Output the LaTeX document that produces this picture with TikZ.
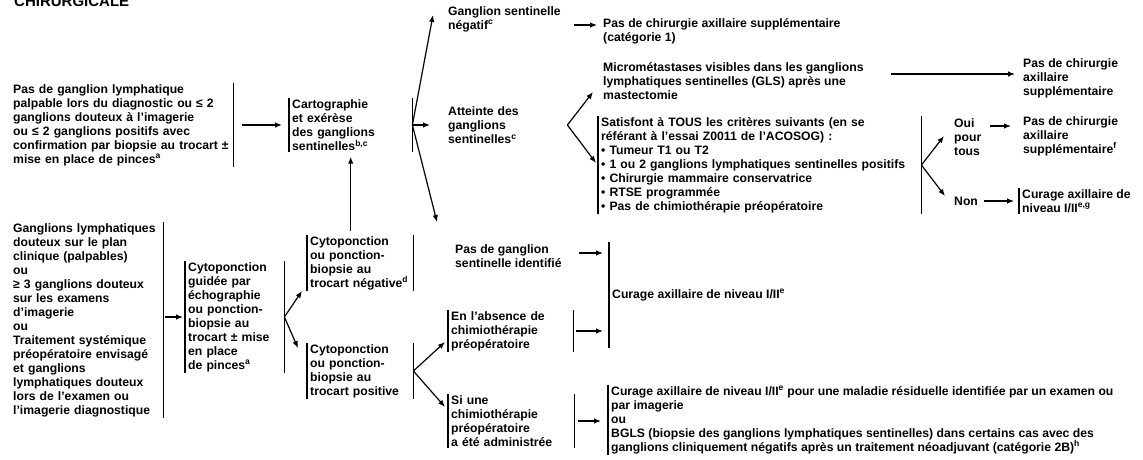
\documentclass[tikz,border=0pt]{standalone}
\usepackage{fontspec}
\setmainfont{Liberation Sans}
\usepackage{tikz}
\usetikzlibrary{arrows.meta, positioning}

\begin{document}
\begin{tikzpicture}[x=1pt, y=-1pt, >={Latex[length=7pt, width=5.5pt]}, font=\fontsize{12.2}{14}\selectfont\bfseries]
		\tikzstyle{box} = [anchor=west, align=left, inner xsep=3pt, inner ysep=1pt]
		\tikzstyle{bar} = [draw=black, line width=1.3pt, -]
		\tikzstyle{lbar} = [append after command={(\tikzlastnode.north west) edge[bar] (\tikzlastnode.south west)}]
		\tikzstyle{rbar} = [append after command={(\tikzlastnode.north east) edge[bar] (\tikzlastnode.south east)}]
		\tikzstyle{arrow} = [line width=1.2pt, ->]
		
		\useasboundingbox (0, 0) rectangle (1143, 460);
		
		\node[anchor=base west, inner sep=0pt, font=\fontsize{15}{18}\selectfont\bfseries] at (14, 6.5) (q0) {CHIRURGICALE};
		
		\node[box, rbar, text width=217pt]			at (10, 125)	(q1)	{Pas de ganglion lymphatique\\palpable lors du diagnostic ou ≤ 2\\ganglions douteux à l’imagerie\\ou ≤ 2 ganglions positifs avec\\confirmation par biopsie au trocart ±\\mise en place de pinces\textsuperscript{a}};
		\node[box, lbar, rbar, text width=117pt]	at (289, 125)	(q2)	{Cartographie\\et exérèse\\des ganglions\\sentinelles\textsuperscript{b,c}};
		
		\node[box]									at (445, 19)	(q3)	{Ganglion sentinelle\\négatif\textsuperscript{c}};
		\node[box]									at (600, 31)	(q4)	{Pas de chirurgie axillaire supplémentaire\\(catégorie 1)};
		\node[box, text width=116pt]				at (445, 125)	(q5)	{Atteinte des\\ganglions\\sentinelles\textsuperscript{c}};
		\node[box]									at (600, 81)	(q6)	{Micrométastases visibles dans les ganglions\\lymphatiques sentinelles (GLS) après une\\mastectomie};
		\node[box]									at (1020, 78)	(q7)	{Pas de chirurgie\\axillaire\\supplémentaire};
		\node[box, lbar, rbar, text width=317pt]	at (598, 165)	(q8)	{Satisfont à TOUS les critères suivants (en se\\référant à l’essai Z0011 de l’ACOSOG) :\\• Tumeur T1 ou T2\\• 1 ou 2 ganglions lymphatiques sentinelles positifs\\• Chirurgie mammaire conservatrice\\• RTSE programmée\\• Pas de chimiothérapie préopératoire};
		\node[box]									at (951, 137)	(q9)	{Oui\\pour\\tous};
		\node[box]									at (1020, 136)	(q10)	{Pas de chirurgie\\axillaire\\supplémentaire\textsuperscript{f}};
		\node[box]									at (951, 201)	(q11)	{Non};
		\node[box, lbar]							at (1019, 201)	(q12)	{Curage axillaire de\\niveau I/II\textsuperscript{e,g}};
		
		\node[box, rbar, text width=147pt]			at (10, 320)	(q13)	{Ganglions lymphatiques\\douteux sur le plan\\clinique (palpables)\\ou\\≥ 3 ganglions douteux\\sur les examens\\d’imagerie\\ou\\Traitement systémique\\préopératoire envisagé\\et ganglions\\lymphatiques douteux\\lors de l’examen ou\\l’imagerie diagnostique};
		\node[box, lbar, rbar, text width=93pt]		at (185, 317)	(q14)	{Cytoponction\\guidée par\\échographie\\ou ponction-\\biopsie au\\trocart ± mise\\en place\\de pinces\textsuperscript{a}};
		\node[box, lbar, rbar, text width=100pt]	at (307, 263)	(q15)	{Cytoponction\\ou ponction-\\biopsie au\\trocart négative\textsuperscript{d}};
		\node[box, lbar, rbar, text width=100pt]	at (307, 371)	(q16)	{Cytoponction\\ou ponction-\\biopsie au\\trocart positive};
		\node[box]									at (452, 256)	(q17)	{Pas de ganglion\\sentinelle identifié};
		\node[box, lbar, rbar, text width=119pt]	at (448, 331)	(q18)	{En l’absence de\\chimiothérapie\\préopératoire};
		\node[box, lbar, rbar, text width=120pt]	at (448, 421)	(q19)	{Si une\\chimiothérapie\\préopératoire\\a été administrée};
		\node[box, lbar, minimum height=106pt]		at (609, 295)	(q20)	{Curage axillaire de niveau I/II\textsuperscript{e}};
		\node[box, lbar]							at (608, 420)	(q21)	{Curage axillaire de niveau I/II\textsuperscript{e} pour une maladie résiduelle identifiée par un examen ou\\par imagerie\\ou\\BGLS (biopsie des ganglions lymphatiques sentinelles) dans certains cas avec des\\ganglions cliniquement négatifs après un traitement néoadjuvant (catégorie 2B)\textsuperscript{h}};
		
		\draw [arrow] ([xshift=9pt]q1.east) -- ([xshift=-7pt]q2.west);
		\draw [arrow] (q2.east) -- ([shift={(-12pt,4pt)}]q3.west);
		\draw [arrow] (q2.east) -- ([xshift=-15pt]q5.west);
		\draw [arrow] (q2.east) -- ([shift={(-15pt,34pt)}]q17.west);
		\draw [arrow] ([shift={(10pt,-6pt)}]q3.east) -- ([shift={(-3pt,6pt)}]q4.west);
		
		\draw [arrow] (q5.east) -- ([shift={(-7pt,-11pt)}]q6.west);
		\draw [arrow] (q5.east) -- ([shift={(-2pt,2pt)}]q8.west);
		\draw [arrow] ([shift={(24pt,7pt)}]q6.east) -- ([shift={(-5pt,4pt)}]q7.west);
		
		\draw [arrow] (q8.east) -- ([shift={(-7pt,1pt)}]q9.west);
		\draw [arrow] (q8.east) -- ([shift={(-6pt,5pt)}]q11.west);
		\draw [arrow] ([shift={(5pt,11pt)}]q9.east) -- ([shift={(-9pt,10pt)}]q10.west);
		\draw [arrow] ([xshift=3pt]q11.east) -- ([xshift=-5pt]q12.west);
		
		\draw [arrow] ([xshift=2pt]q13.east |- q14.west) -- ([xshift=-2pt]q14.west);
		\draw [arrow] (q14.east) -- ([xshift=-5pt]q15.south west);
		\draw [arrow] (q14.east) -- ([shift={(-9pt,-5pt)}]q16.north west);
		\draw [arrow, shorten <=4pt, shorten >=5pt] (q15.north -| q2.south) -- (q2.south);
		
		\draw [arrow] (q16.east) -- ([shift={(-3pt,-11pt)}]q18.west);
		\draw [arrow] (q16.east) -- ([shift={(-3pt,14pt)}]q19.west);
		\draw [arrow] ([shift={(14pt,3pt)}]q17.east) -- ([shift={(-6pt,3pt)}]q20.west |- q17.east);
		\draw [arrow] ([xshift=3pt]q18.east) -- ([xshift=-6pt]q20.west |- q18.east);
		\draw [arrow] ([xshift=4pt]q19.east) -- ([xshift=-7pt]q21.west |- q19.east);
	\end{tikzpicture}
\end{document}
